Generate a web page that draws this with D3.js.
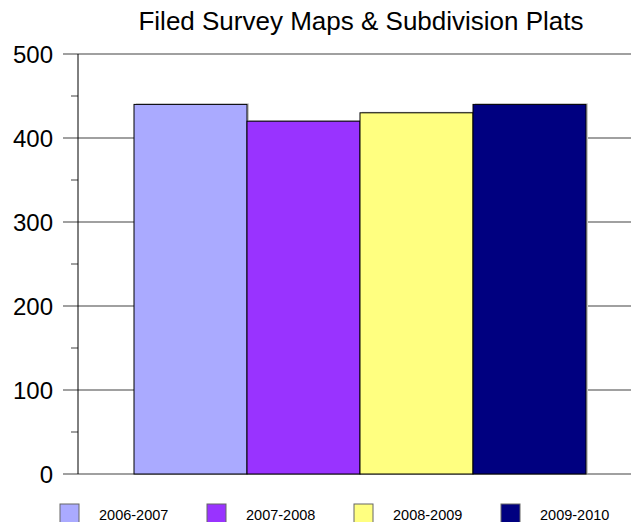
<!DOCTYPE html>
<html>
<head>
<meta charset="utf-8">
<script src="https://cdn.jsdelivr.net/npm/d3@7"></script>
<style>
  body { margin: 0; background: #fff; }
  svg { display: block; font-family: "Liberation Sans", Arial, sans-serif; }
</style>
</head>
<body>
<div id="chart"></div>
<script>
// Data
const categories = ["2006-2007", "2007-2008", "2008-2009", "2009-2010"];
const values = [440, 420, 430, 440];
const colors = ["#aaaaff", "#9933ff", "#ffff80", "#000080"];
const yTicks = [0, 100, 200, 300, 400, 500];
const title = "Filed Survey Maps & Subdivision Plats";

const width = 631;
const height = 522;
const plot = { left: 78, top: 54, bottom: 474, right: 631 };

const svg = d3.select("#chart")
  .append("svg")
  .attr("width", width)
  .attr("height", height);

// Scales
const yScale = d3.scaleLinear().domain([0, 500]).range([plot.bottom, plot.top]);
const xScale = d3.scaleBand().domain(categories).range([134, 586]).padding(0);

// Title
svg.append("text")
  .attr("x", 361)
  .attr("y", 30)
  .attr("text-anchor", "middle")
  .attr("font-size", 26)
  .text(title);

// Gridlines
svg.append("g")
  .selectAll("line")
  .data(yTicks)
  .join("line")
  .attr("x1", 63)
  .attr("x2", plot.right)
  .attr("y1", (d) => yScale(d))
  .attr("y2", (d) => yScale(d))
  .attr("stroke", "#808080")
  .attr("stroke-width", 1.5);

// Minor ticks
svg.append("g")
  .selectAll("line")
  .data(yTicks.slice(0, -1).map((d) => d + 50))
  .join("line")
  .attr("x1", 71)
  .attr("x2", plot.left)
  .attr("y1", (d) => yScale(d))
  .attr("y2", (d) => yScale(d))
  .attr("stroke", "#808080")
  .attr("stroke-width", 1.5);

// Tick labels
svg.append("g")
  .selectAll("text")
  .data(yTicks)
  .join("text")
  .attr("x", 53)
  .attr("y", (d) => yScale(d))
  .attr("dy", "0.36em")
  .attr("text-anchor", "end")
  .attr("font-size", 24)
  .text((d) => d);

// Bar shadows
svg.append("g")
  .selectAll("rect")
  .data(values)
  .join("rect")
  .attr("x", (d, i) => xScale(categories[i]) + 2)
  .attr("y", (d) => yScale(d) - 1)
  .attr("width", xScale.bandwidth())
  .attr("height", (d) => plot.bottom - yScale(d))
  .attr("fill", "#c8c8c8");

// Bars
svg.append("g")
  .selectAll("rect")
  .data(values)
  .join("rect")
  .attr("x", (d, i) => xScale(categories[i]))
  .attr("y", (d) => yScale(d))
  .attr("width", xScale.bandwidth())
  .attr("height", (d) => plot.bottom - yScale(d))
  .attr("fill", (d, i) => colors[i])
  .attr("stroke", "#000")
  .attr("stroke-width", 1);

// Y axis line
svg.append("line")
  .attr("x1", plot.left)
  .attr("x2", plot.left)
  .attr("y1", plot.top)
  .attr("y2", plot.bottom)
  .attr("stroke", "#000")
  .attr("stroke-width", 1);

// Legend
const legend = svg.append("g")
  .selectAll("g")
  .data(categories)
  .join("g")
  .attr("transform", (d, i) => `translate(${60 + i * 147}, 504)`);

legend.append("rect")
  .attr("width", 19)
  .attr("height", 19)
  .attr("fill", (d, i) => colors[i])
  .attr("stroke", "#666")
  .attr("stroke-width", 1);

legend.append("text")
  .attr("x", 39)
  .attr("y", 16)
  .attr("font-size", 14.5)
  .text((d) => d);
</script>
</body>
</html>
